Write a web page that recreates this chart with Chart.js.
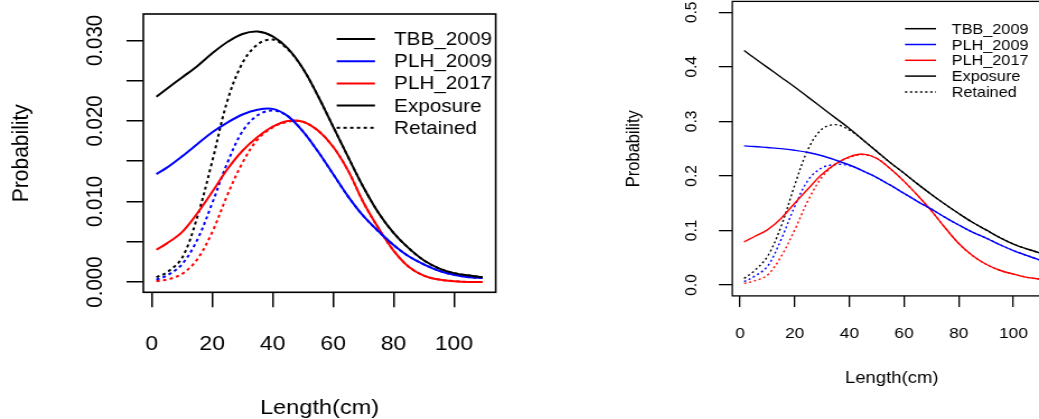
<!DOCTYPE html>
<html><head><meta charset="utf-8">
<script src="https://cdn.jsdelivr.net/npm/chart.js@4.4.1/dist/chart.umd.min.js"></script>
<style>
html,body{margin:0;padding:0;background:#fff;overflow:hidden;width:1039px;height:419px;}
.wrap{position:absolute;top:0;transform-origin:0 0;}
canvas{display:block;}
</style></head><body>
<div class="wrap" id="wl" style="left:0px;"><canvas id="cl" width="536" height="419"></canvas></div>
<div class="wrap" id="wr" style="left:600px;"><canvas id="cr" width="470" height="419"></canvas></div>
<script>
// ---------- data ----------
const lengths = [1.5, 5, 10, 15, 20, 25, 30, 35, 40, 45, 50, 55, 60, 65, 70, 75, 80, 85, 90, 95, 100, 105, 109.5];

// left panel (proportions)
const leftTBBExposure    = [0.0230,0.0240,0.0254,0.0268,0.0284,0.0298,0.0308,0.0311,0.0305,0.0290,0.0265,0.0231,0.0193,0.0155,0.0118,0.0086,0.0061,0.0042,0.0027,0.0017,0.0011,0.0008,0.0006];
const leftTBBRetained    = [0.0006,0.0012,0.0030,0.0080,0.0150,0.0225,0.0272,0.0295,0.0301,0.0289,0.0265,0.0231,0.0193,0.0155,0.0118,0.0086,0.0061,0.0042,0.0027,0.0017,0.0011,0.0008,0.0006];
const leftPLH2009Exposure= [0.0134,0.0142,0.0156,0.0171,0.0186,0.0198,0.0208,0.0214,0.0215,0.0206,0.0187,0.0162,0.0134,0.0106,0.0082,0.0063,0.0046,0.0032,0.0022,0.0014,0.0009,0.0006,0.0005];
const leftPLH2009Retained= [0.0003,0.0008,0.0022,0.0052,0.0098,0.0148,0.0187,0.0207,0.0213,0.0206,0.0187,0.0162,0.0134,0.0106,0.0082,0.0063,0.0046,0.0032,0.0022,0.0014,0.0009,0.0006,0.0005];
const leftPLH2017Exposure= [0.0040,0.0048,0.0062,0.0085,0.0112,0.0140,0.0163,0.0180,0.0193,0.0200,0.0199,0.0188,0.0168,0.0138,0.0099,0.0067,0.0039,0.0019,0.0008,0.0003,0.0001,0.0000,0.0000];
const leftPLH2017Retained= [0.0001,0.0003,0.0010,0.0028,0.0062,0.0108,0.0148,0.0177,0.0192,0.0199,0.0199,0.0188,0.0168,0.0138,0.0099,0.0067,0.0039,0.0019,0.0008,0.0003,0.0001,0.0000,0.0000];

// right panel (probabilities)
const rightTBBExposure    = [0.430,0.417,0.399,0.381,0.363,0.344,0.325,0.306,0.287,0.266,0.245,0.224,0.205,0.185,0.166,0.148,0.131,0.115,0.101,0.087,0.075,0.066,0.059];
const rightTBBRetained    = [0.012,0.025,0.052,0.107,0.183,0.250,0.286,0.294,0.284,0.266,0.245,0.224,0.205,0.185,0.166,0.148,0.131,0.115,0.101,0.087,0.075,0.066,0.059];
const rightPLH2009Exposure= [0.255,0.254,0.252,0.250,0.247,0.243,0.237,0.229,0.220,0.209,0.197,0.183,0.168,0.153,0.139,0.124,0.110,0.097,0.086,0.074,0.063,0.054,0.046];
const rightPLH2009Retained= [0.006,0.015,0.034,0.083,0.144,0.193,0.215,0.221,0.219,0.209,0.197,0.183,0.168,0.153,0.139,0.124,0.110,0.097,0.086,0.074,0.063,0.054,0.046];
const rightPLH2017Exposure= [0.079,0.088,0.101,0.122,0.150,0.177,0.203,0.222,0.235,0.240,0.232,0.213,0.190,0.164,0.136,0.105,0.076,0.054,0.038,0.027,0.020,0.014,0.011];
const rightPLH2017Retained= [0.003,0.007,0.018,0.052,0.101,0.156,0.198,0.222,0.234,0.239,0.232,0.213,0.190,0.164,0.136,0.105,0.076,0.054,0.038,0.027,0.020,0.014,0.011];

// ticks and labels
const xTickValues = [0, 20, 40, 60, 80, 100];
const xTickLabels = ['0', '20', '40', '60', '80', '100'];
const leftYTickValues = [0, 0.005, 0.010, 0.015, 0.020, 0.025, 0.030];
const leftYTickLabels = ['0.000', '', '0.010', '', '0.020', '', '0.030'];
const rightYTickValues = [0, 0.1, 0.2, 0.3, 0.4, 0.5];
const rightYTickLabels = ['0.0', '0.1', '0.2', '0.3', '0.4', '0.5'];
const xTitle = 'Length(cm)';
const yTitle = 'Probability';
const legendLabels = ['TBB_2009', 'PLH_2009', 'PLH_2017', 'Exposure', 'Retained'];
const legendColors = ['#000000', '#0000FF', '#FF0000', '#000000', '#000000'];
const legendDashed = [false, false, false, false, true];

// ---------- drawing ----------
const SX = 1.12;
const FONT = '"Liberation Sans", Arial, Helvetica, sans-serif';
document.getElementById('wl').style.transform = 'scaleX(' + SX + ')';
document.getElementById('wr').style.transform = 'scaleX(' + SX + ')';

const rPlot = {
  id: 'rPlot',
  afterDraw(chart, args, o) {
    const {ctx, chartArea: a, scales: {x, y}} = chart;
    ctx.save();
    ctx.strokeStyle = '#000'; ctx.lineWidth = o.boxLW; ctx.setLineDash([]);
    ctx.strokeRect(a.left, a.top, a.right - a.left, a.bottom - a.top);
    ctx.fillStyle = '#000';
    ctx.font = o.tickFont + 'px ' + FONT;
    ctx.textAlign = 'center'; ctx.textBaseline = 'alphabetic';
    x.ticks.forEach((t, i) => { const lab = o.xLabels[i]; if (lab) ctx.fillText(lab, x.getPixelForValue(t.value), o.xLabelY); });
    y.ticks.forEach((t, i) => {
      const lab = o.yLabels[i]; if (!lab) return;
      ctx.save(); ctx.translate(o.yLabelX, y.getPixelForValue(t.value)); ctx.rotate(-Math.PI / 2);
      ctx.fillText(lab, 0, 0); ctx.restore();
    });
    ctx.font = o.titleFont + 'px ' + FONT;
    ctx.fillText(xTitle, (a.left + a.right) / 2, o.xTitleY);
    ctx.save(); ctx.translate(o.yTitleX, (a.top + a.bottom) / 2); ctx.rotate(-Math.PI / 2);
    ctx.fillText(yTitle, 0, 0); ctx.restore();
    ctx.font = o.legFont + 'px ' + FONT;
    ctx.textAlign = 'left'; ctx.textBaseline = 'middle';
    legendLabels.forEach((lab, i) => {
      const yy = o.legY0 + i * o.legDy;
      ctx.strokeStyle = legendColors[i]; ctx.lineWidth = o.lw;
      ctx.setLineDash(legendDashed[i] ? o.dash : []);
      ctx.beginPath(); ctx.moveTo(o.legX0, yy); ctx.lineTo(o.legX1, yy); ctx.stroke();
      ctx.fillStyle = '#000';
      ctx.fillText(lab, o.legTX, yy + 1);
    });
    ctx.restore();
  }
};

function makePanel(id, P, series) {
  const toC = X => (X - P.panelLeft) / SX;
  const W = P.canvasW, H = 419;
  const boxL = toC(P.box[0]), boxR = toC(P.box[1]);
  new Chart(document.getElementById(id), {
    type: 'line',
    data: {
      datasets: series.map(s => ({
        data: lengths.map((v, i) => ({x: v, y: s.values[i]})),
        borderColor: s.color, borderWidth: P.lw,
        borderDash: s.dashed ? P.dash : [],
        pointRadius: 0, tension: 0.35, fill: false
      }))
    },
    options: {
      responsive: false, animation: false, devicePixelRatio: 1,
      layout: {padding: {top: P.box[2], right: W - boxR, bottom: 0, left: 0}},
      plugins: {
        legend: {display: false}, tooltip: {enabled: false},
        rPlot: {
          boxLW: P.boxLW, lw: P.legLW, dash: P.dash,
          xLabels: xTickLabels, yLabels: P.yLabels,
          tickFont: P.tickFont, xLabelY: P.xLabelY, yLabelX: toC(P.yLabelX),
          titleFont: P.titleFont, xTitleY: P.xTitleY,
          yTitleX: toC(P.yTitleInkX) + 0.26 * P.titleFont,
          legFont: P.legFont, legY0: P.legY0, legDy: P.legDy,
          legX0: toC(P.legX0), legX1: toC(P.legX1), legTX: toC(P.legTX)
        }
      },
      scales: {
        x: {
          type: 'linear', bounds: 'data', min: P.xMin, max: P.xMax,
          afterBuildTicks: s => { s.ticks = xTickValues.map(v => ({value: v})); },
          afterFit: s => { s.height = H - P.box[3]; },
          ticks: {display: false},
          grid: {display: true, drawOnChartArea: false, drawTicks: true, tickLength: P.xTickLen, color: '#000', lineWidth: P.tickLW},
          border: {display: false}
        },
        y: {
          type: 'linear', bounds: 'data', min: P.yMin, max: P.yMax,
          afterBuildTicks: s => { s.ticks = P.yTicks.map(v => ({value: v})); },
          afterFit: s => { s.width = boxL; },
          ticks: {display: false},
          grid: {display: true, drawOnChartArea: false, drawTicks: true, tickLength: P.yTickLen, color: '#000', lineWidth: P.tickLW},
          border: {display: false}
        }
      }
    },
    plugins: [rPlot]
  });
}

makePanel('cl', {
  panelLeft: 0, canvasW: 536,
  box: [143.3, 495.7, 14, 292.3],
  xMin: -2.82, xMax: 113.82, yMin: -0.00128, yMax: 0.03328,
  yTicks: leftYTickValues, yLabels: leftYTickLabels,
  xTickLen: 15, yTickLen: 15, tickLW: 1.5, boxLW: 1.6,
  lw: 2, legLW: 2, dash: [3, 3],
  tickFont: 20.5, xLabelY: 349.5, yLabelX: 101.5,
  titleFont: 21, xTitleY: 413.5, yTitleInkX: 21.7,
  legFont: 18.5, legY0: 39, legDy: 22.2, legX0: 336.7, legX1: 375, legTX: 394
}, [
  {values: leftTBBExposure, color: '#000000', dashed: false},
  {values: leftPLH2009Exposure, color: '#0000FF', dashed: false},
  {values: leftPLH2017Exposure, color: '#FF0000', dashed: false},
  {values: leftTBBRetained, color: '#000000', dashed: true},
  {values: leftPLH2009Retained, color: '#0000FF', dashed: true},
  {values: leftPLH2017Retained, color: '#FF0000', dashed: true}
]);

makePanel('cr', {
  panelLeft: 600, canvasW: 470,
  box: [732.3, 1051.2, 1.4, 295.9],
  xMin: -2.82, xMax: 113.82, yMin: -0.02, yMax: 0.52,
  yTicks: rightYTickValues, yLabels: rightYTickLabels,
  xTickLen: 11, yTickLen: 12, tickLW: 1.3, boxLW: 1.3,
  lw: 1.4, legLW: 1.5, dash: [2, 2.5],
  tickFont: 15.5, xLabelY: 337.5, yLabelX: 696.7,
  titleFont: 16.5, xTitleY: 383, yTitleInkX: 634,
  legFont: 14.5, legY0: 28.7, legDy: 15.8, legX0: 905, legX1: 936, legTX: 951.7
}, [
  {values: rightTBBExposure, color: '#000000', dashed: false},
  {values: rightPLH2009Exposure, color: '#0000FF', dashed: false},
  {values: rightPLH2017Exposure, color: '#FF0000', dashed: false},
  {values: rightTBBRetained, color: '#000000', dashed: true},
  {values: rightPLH2009Retained, color: '#0000FF', dashed: true},
  {values: rightPLH2017Retained, color: '#FF0000', dashed: true}
]);
</script>
</body></html>
